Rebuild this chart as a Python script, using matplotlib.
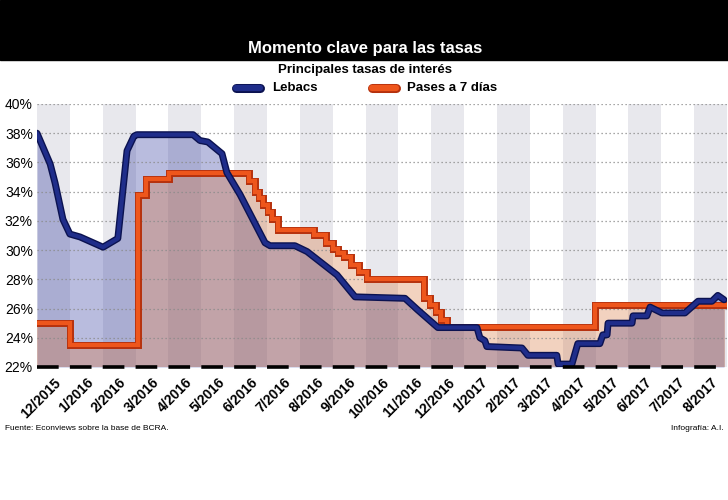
import matplotlib
matplotlib.use('Agg')
import matplotlib.pyplot as plt
import matplotlib.patheffects as pe
from matplotlib.lines import Line2D
from matplotlib.patches import Rectangle

plt.rcParams['font.family'] = ['Liberation Sans Narrow', 'Liberation Sans', 'DejaVu Sans']

# month labels (one band per month)
months = ['12/2015', '1/2016', '2/2016', '3/2016', '4/2016', '5/2016', '6/2016',
          '7/2016', '8/2016', '9/2016', '10/2016', '11/2016', '12/2016', '1/2017',
          '2/2017', '3/2017', '4/2017', '5/2017', '6/2017', '7/2017', '8/2017']

# Lebacs (x in months from start of 12/2015, value in %)
lebacs_x = [0.0, 0.40, 0.55, 0.79, 1.00, 1.31, 2.01, 2.46, 2.74, 2.95, 3.04, 4.75,
            4.96, 5.20, 5.63, 5.78, 6.18, 6.94, 7.09, 7.85, 8.22, 9.13, 9.68, 11.20,
            11.59, 12.20, 13.39, 13.48, 13.63, 13.69, 14.76, 14.94, 15.82, 15.86,
            16.28, 16.46, 17.13, 17.22, 17.35, 17.38, 18.11, 18.14, 18.56, 18.66,
            19.02, 19.72, 20.12, 20.54, 20.72, 20.91]
lebacs_y = [38.0, 35.9, 34.6, 32.1, 31.1, 30.9, 30.2, 30.8, 36.8, 37.8, 37.9, 37.9,
            37.5, 37.4, 36.6, 35.3, 33.8, 30.5, 30.3, 30.3, 29.9, 28.3, 26.8, 26.7,
            25.9, 24.7, 24.7, 24.0, 23.8, 23.4, 23.3, 22.8, 22.8, 22.2,
            22.2, 23.6, 23.6, 24.2, 24.2, 25.0, 25.0, 25.5, 25.5, 26.1,
            25.7, 25.7, 26.5, 26.5, 26.9, 26.6]

# Pases a 7 dias (step changes)
pases_x = [0.0, 1.00, 3.07, 3.32, 4.02, 6.45, 6.63, 6.76, 6.88, 7.03, 7.15, 7.33,
           8.43, 8.79, 9.01, 9.16, 9.34, 9.56, 9.80, 10.04, 11.78, 11.96, 12.14,
           12.29, 12.48, 16.98, 20.95]
pases_y = [25.0, 23.5, 33.8, 34.9, 35.3, 34.7, 34.0, 33.6, 33.1, 32.6, 32.1, 31.4,
           31.0, 30.5, 30.1, 29.8, 29.5, 29.0, 28.5, 28.0, 26.75, 26.25, 25.75,
           25.25, 24.75, 26.25, 26.25]

yticks = [22, 24, 26, 28, 30, 32, 34, 36, 38, 40]

blue = '#1f2d8a'
blue_dark = '#0b1250'
orange = '#ee561c'
orange_dark = '#b5300c'

fig = plt.figure(figsize=(7.28, 5.0), dpi=100)
ax = fig.add_axes([37/728, 1-367/500, 690/728, 263/500])

# alternate month bands
for i in range(0, len(months), 2):
    ax.axvspan(i, i+1, color='#e8e8ed', lw=0, zorder=0)

ax.fill_between(lebacs_x, 22, lebacs_y, color=(55/255, 64/255, 161/255), alpha=0.35, lw=0, zorder=1)
ax.fill_between(pases_x, 22, pases_y, step='post', color=(215/255, 108/255, 45/255), alpha=0.3, lw=0, zorder=2)

for v in yticks[1:]:
    ax.axhline(v, color='#8a8a8a', lw=0.9, linestyle=(0, (1, 2.2)), zorder=3)

ax.step(pases_x, pases_y, where='post', color=orange, lw=3.0, solid_joinstyle='miter',
        path_effects=[pe.Stroke(linewidth=5.0, foreground=orange_dark), pe.Normal()], zorder=4)
ax.plot(lebacs_x, lebacs_y, color=blue, lw=3.0, solid_joinstyle='round', solid_capstyle='round',
        path_effects=[pe.Stroke(linewidth=5.0, foreground=blue_dark), pe.Normal()], zorder=5)

ax.axhline(22, color='black', lw=2.6, linestyle=(0, (6.0, 3.1)), zorder=6, clip_on=False)

ax.set_xlim(0, 21)
ax.set_ylim(22, 40)
ax.set_yticks(yticks)
ax.set_yticklabels(['%d%%' % v for v in yticks], fontsize=10, family=['Liberation Sans', 'DejaVu Sans'])
ax.set_xticks([i + 0.5 for i in range(len(months))])
ax.set_xticklabels(months, rotation=45, ha='right', rotation_mode='anchor',
                   fontsize=10, fontweight='bold', family=['Liberation Sans', 'DejaVu Sans'])
ax.tick_params(axis='both', length=0)
ax.tick_params(axis='y', pad=3)
ax.tick_params(axis='x', pad=6)
for s in ax.spines.values():
    s.set_visible(False)

# header band
fig.add_artist(Rectangle((0, 1-60/500), 1, 60/500, transform=fig.transFigure,
                         color='black', zorder=0))
fig.text(365/728, 1-48/500, 'Momento clave para las tasas', color='white',
         fontsize=12, fontweight='bold', ha='center', va='center')
fig.text(365/728, 1-70/500, 'Principales tasas de interés', color='black',
         fontsize=9.5, fontweight='bold', ha='center', va='center')

# legend
ly = 1-88/500
fig.add_artist(Line2D([236/728, 260/728], [ly, ly], transform=fig.transFigure, color=blue,
                      lw=4.5, solid_capstyle='round',
                      path_effects=[pe.Stroke(linewidth=6.5, foreground=blue_dark), pe.Normal()]))
fig.text(272/728, ly, 'Lebacs', fontsize=9.5, fontweight='bold', va='center')
fig.add_artist(Line2D([372/728, 396/728], [ly, ly], transform=fig.transFigure, color=orange,
                      lw=4.5, solid_capstyle='round',
                      path_effects=[pe.Stroke(linewidth=6.5, foreground=orange_dark), pe.Normal()]))
fig.text(407/728, ly, 'Pases a 7 días', fontsize=9.5, fontweight='bold', va='center')

# footer
fig.text(5/728, 1-428/500, 'Fuente: Econviews sobre la base de BCRA.', fontsize=6, va='center')
fig.text(724/728, 1-428/500, 'Infografía: A.I.', fontsize=6, va='center', ha='right')

fig.savefig('out.png', dpi=100)
